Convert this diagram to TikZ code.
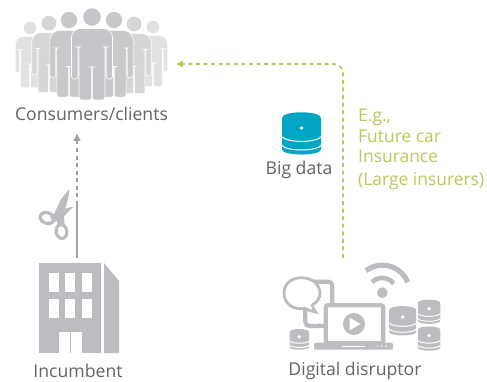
\documentclass[tikz,border=0pt]{standalone}
\usepackage{fontspec}
\setmainfont{Open Sans}
\usetikzlibrary{arrows.meta}
\definecolor{txt}{HTML}{626366}
\definecolor{grn}{HTML}{BCC65A}
\definecolor{gry}{HTML}{BCBDC0}
\definecolor{blu}{HTML}{00A7C4}
\tikzset{
 lbl/.style={font=\fontsize{17.7}{20}\selectfont,text=txt,inner sep=0pt},
 glbl/.style={font=\fontsize{17.5}{20}\selectfont,text=grn,inner sep=0pt,anchor=west},
 gflow/.style={draw=grn,line width=1.6pt,dash pattern=on 4pt off 3.6pt,rounded corners=9pt,-{Latex[length=7pt,width=8pt]}},
 gyflow/.style={draw=gry!85!black,line width=1.5pt,dash pattern=on 4pt off 3.6pt,-{Latex[length=8pt,width=8pt]}}
}
% cx, head cy, scale, colour
\newcommand{\person}[4]{%
 \begin{scope}[shift={(#1,#2)},scale=#3]
  \fill[#4] (0,0) circle (8.8);
  \filldraw[fill=#4,draw=white,line width=.6pt]
   (-20.5,62) [rounded corners=9pt] -- (-20.5,11.5) -- (20.5,11.5) [rounded corners=2.5pt] -- (20.5,62) -- (14.2,62) -- (14.2,30) -- (13,30) -- (13,83) -- (0.4,83) -- (0.4,50) -- (-0.4,50) -- (-0.4,83) -- (-13,83) -- (-13,30) -- (-14.2,30) -- (-14.2,62) -- cycle;
 \end{scope}}
% cx cy w h colour
\newcommand{\dbase}[5]{%
 \begin{scope}[shift={(#1,#2)},xscale=#3,yscale=#4]
  \fill[#5] (-.5,-.37) .. controls (-.5,-.56) and (.5,-.56) .. (.5,-.37) -- (.5,.39) .. controls (.5,.56) and (-.5,.56) .. (-.5,.39) -- cycle;
  \draw[white,line width=1pt] (-.52,.07) .. controls (-.4,.24) and (.4,.24) .. (.52,.07);
  \draw[white,line width=1pt] (-.52,.28) .. controls (-.4,.45) and (.4,.45) .. (.52,.28);
  \fill[white] (0,-.13) ellipse ({1.9/#3} and {1.9/#4});
 \end{scope}}
\begin{document}
\begin{tikzpicture}[x=1bp,y=1bp,yscale=-1]
\useasboundingbox (0,0) rectangle (487,381);
% crowd
\person{30}{28}{.72}{gry!45}
\person{153}{27}{.72}{gry!45}
\person{49}{23}{.84}{gry!62}
\person{134}{24}{.84}{gry!62}
\person{69}{20}{.93}{gry!82}
\person{114}{20}{.93}{gry!82}
\person{92}{17}{1}{gry!105!black}
\node[lbl] (consumers) at (91.5,114) {Consumers/clients};
% building
\fill[gry] (39,263) rectangle (101,353);
\fill[gry] (104,263) -- (119,281) -- (119,353) -- (104,353) -- cycle;
\foreach \xx in {49,65.3,82}{\foreach \yy in {273,299}{\fill[white] (\xx,\yy) rectangle ++(10,19);}}
\fill[white] (59,332) rectangle (82,353);
\draw[gry,line width=.6pt] (70.5,332) -- (70.5,353);
\node[lbl] (incumbent) at (78,371) {Incumbent};
% gray connector
\coordinate (bldtop) at (77,258);
\coordinate (cut) at (77,205);
\coordinate (cons) at (77,133);
\draw[gry!85!black,line width=1.5pt] (bldtop) -- (cut);
\draw[gyflow] (cut) -- (cons);
% scissors
\begin{scope}[gry]
 \fill (69.5,189) -- (68.5,197) -- (64,213) -- (64.5,226) -- (58,226) -- (55,212) -- (61,199) -- cycle;
 \fill (73.5,206.5) -- (63,217) -- (53,223) -- (50,216) -- (60,210) -- cycle;
 \draw[line width=3.2pt,rotate around={20:(47,218)}] (47,218) ellipse (7 and 5.3);
 \draw[line width=3.2pt,rotate around={-10:(61.5,231.5)}] (61.5,231.5) ellipse (5.3 and 7);
\end{scope}
% digital disruptor icon
\node[lbl] (digital) at (355,371) {Digital disruptor};
\begin{scope}[shift={(270,250)},scale=1/3,gry]
 % wifi
 \fill (337,128) circle (16);
 \draw[line width=4.6bp] (306,96) arc (226:322:44);
 \draw[line width=5.2bp] (288,62) arc (233:338:82);
 % phone
 \draw[line width=4.2bp,rounded corners=4bp] (106,95) -- (187,95) -- (187,160);
 \draw[line width=4.2bp,rounded corners=4bp] (106,180) -- (106,228) -- (165,228);
 \fill (148,226) circle (6);
 % bubble
 \filldraw[fill=white,draw=gry,line width=2.8bp] (137,186) .. controls (120,183) and (112,178) .. (104,175) .. controls (70,182) and (42,160) .. (42,130) .. controls (42,100) and (65,83) .. (95,83) .. controls (128,83) and (150,105) .. (150,130) .. controls (150,145) and (140,158) .. (127,165) .. controls (128,172) and (131,180) .. (137,186) -- cycle;
 % laptop
 \filldraw[fill=white,draw=gry,line width=4.2bp,rounded corners=2bp] (167,166) rectangle (340,280);
 \fill[rounded corners=2bp] (132,278) rectangle (369,299);
 \draw[white,line width=1bp] (215,289) -- (285,289);
 \foreach \xx in {322,335,348} \fill[white] (\xx,288) circle (2.5);
 \fill (252,222) circle (33);
 \fill[white] (239,203) -- (272,222) -- (239,241) -- cycle;
\end{scope}
\dbase{402.7}{320.7}{27}{28.5}{gry}
\dbase{429}{311.7}{22.5}{23.5}{gry}
\dbase{429}{338.5}{22.5}{23.5}{gry}
\dbase{299.3}{339.3}{19.5}{20}{gry}
% big data
\dbase{301.5}{133.3}{39}{41}{blu}
\node[lbl] (bigdata) at (299,170) {Big data};
% labels
\node[glbl] (eg) at (358,117) {E.g.,};
\node[glbl] (future) at (358,136) {Future car};
\node[glbl] (ins) at (358,156) {Insurance};
\node[glbl] (large) at (358,181) {(Large insurers)};
% green connector
\coordinate (dd) at (343,258);
\coordinate (cc) at (176,64);
\draw[gflow] (dd) -- (343,64) -- (cc);
\end{tikzpicture}
\end{document}
